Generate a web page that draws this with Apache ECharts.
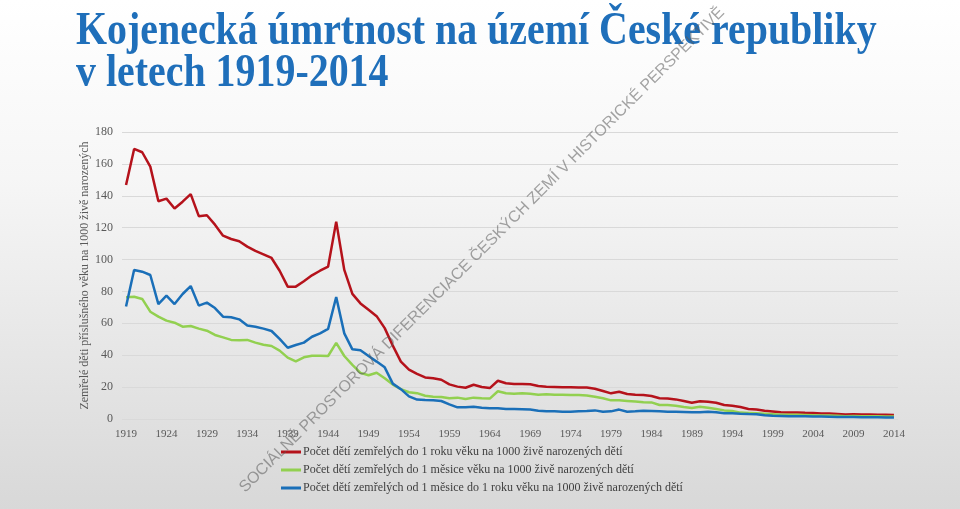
<!DOCTYPE html>
<html>
<head>
<meta charset="utf-8">
<script src="https://cdn.jsdelivr.net/npm/echarts@6/dist/echarts.min.js"></script>
<style>html,body{margin:0;padding:0;}#c{width:960px;height:509px;}</style>
</head>
<body>
<div id="c"></div>
<script>
const years = [];
for (let y = 1919; y <= 2014; y++) years.push(String(y));

const infant = [146.8,169.4,167.3,158.3,136.6,138.2,132,136.3,141,127.2,127.8,121.9,115,112.9,111.5,108.1,105.4,103.3,101,93,83,83,86.4,90.1,93,95.6,123.8,93.5,78.5,72.5,68.5,64.5,57,46,36,31,28.3,26.1,25.5,24.6,21.7,20.3,19.6,21.5,20.1,19.4,24,22.4,22,22,21.8,20.7,20.3,20.1,19.9,19.9,19.7,19.7,19,17.6,16.1,17.1,15.7,15.2,15,14.4,13,12.8,12.3,11.3,10.2,11.1,10.8,10.2,8.8,8.3,7.5,6.3,5.9,5.2,4.7,4.2,4.0,4.1,3.9,3.8,3.5,3.4,3.2,2.9,3.0,2.8,2.8,2.7,2.6,2.5];
const neonatal = [76.3,76.7,75.3,67.3,64.2,61.7,60.4,57.9,58.3,56.7,55.4,52.7,51.2,49.6,49.4,49.6,47.9,46.6,45.8,42.9,38.5,36.2,38.7,39.7,39.7,39.5,47.7,39.5,33.9,28.9,27.4,29,25.5,21.6,18.7,16.8,16.2,14.6,14,13.8,13,13.4,12.5,13.4,13,12.8,17.4,16.1,15.9,16.1,15.9,15.2,15.5,15.2,15.2,15,15,14.8,14,13,11.7,11.7,11.3,10.9,10.5,10.4,8.8,8.8,8.3,7.5,6.9,7.7,7.1,6.3,5.4,5.0,4.0,3.8,3.6,3.3,3.0,2.7,2.6,2.6,2.5,2.4,2.2,2.2,2.0,1.8,1.9,1.7,1.8,1.7,1.6,1.5];
const postneonatal = [70.5,93.5,92.4,90.3,72.1,77.4,72.1,78.4,83.4,71.1,73,69.6,64.2,63.8,62.5,58.6,57.9,56.7,55.2,50.2,44.7,46.4,47.9,51.6,53.7,56.5,76.5,53.7,43.7,43.1,39.5,36,32.4,22.2,18.7,14.2,12.2,11.9,11.7,11.3,9.2,7.3,7.3,7.7,7.1,6.7,6.7,6.3,6.2,6.1,5.9,5.2,4.8,4.8,4.6,4.6,4.8,5.0,5.4,4.6,4.8,5.9,4.6,4.8,5.2,5.0,4.8,4.6,4.6,4.4,4.2,4.2,4.6,4.2,3.6,3.6,3.3,3.1,3.0,2.3,2.0,1.9,1.8,1.8,1.7,1.6,1.5,1.4,1.3,1.2,1.2,1.1,1.1,1.1,1.0,0.9];

const seriesNames = [
  'Počet dětí zemřelých do 1 roku věku na 1000 živě narozených dětí',
  'Počet dětí zemřelých do 1 měsice věku na 1000 živě narozených dětí',
  'Počet dětí zemřelých od 1 měsice do 1 roku věku na 1000 živě narozených dětí'
];
const yTicks = {min: 0, max: 180, interval: 20};
const titleLines = ['Kojenecká úmrtnost na území České republiky', 'v letech 1919-2014'];
const watermark = 'SOCIÁLNĚ PROSTOROVÁ DIFERENCIACE ČESKÝCH ZEMÍ V HISTORICKÉ PERSPEKTIVĚ';

const serif = '"Liberation Serif", "Times New Roman", serif';
const chart = echarts.init(document.getElementById('c'));
chart.setOption({
  backgroundColor: new echarts.graphic.LinearGradient(0, 0, 0, 1, [
    {offset: 0, color: '#ffffff'}, {offset: 0.35, color: '#f6f6f6'}, {offset: 1, color: '#d8d8d8'}
  ]),
  animation: false,
  grid: {left: 122, right: 62, top: 132, bottom: 90},
  legend: {
    orient: 'vertical', left: 281, top: 446, itemGap: 6, padding: 0,
    itemWidth: 20, itemHeight: 3, icon: 'rect',
    textStyle: {fontFamily: serif, fontSize: 12, color: '#404040', padding: [0,0,0,-3]},
    data: seriesNames
  },
  xAxis: {
    type: 'category', data: years, boundaryGap: true,
    axisLine: {show: false}, axisTick: {show: false},
    axisLabel: {interval: 4, fontFamily: serif, fontSize: 11, color: '#595959', margin: 10}
  },
  yAxis: {
    type: 'value', min: yTicks.min, max: yTicks.max, interval: yTicks.interval,
    name: 'Zemřelé děti příslušného věku na 1000 živě narozených',
    nameLocation: 'middle', nameGap: 31, nameMoveOverlap: false,
    nameTextStyle: {fontFamily: serif, fontSize: 12, color: '#595959'},
    axisLabel: {fontFamily: serif, fontSize: 12, color: '#595959', margin: 9},
    splitLine: {lineStyle: {color: '#d9d9d9', width: 1}}
  },
  series: [
    {name: seriesNames[0], type: 'line', data: infant, showSymbol: false, lineStyle: {color: '#b5121b', width: 2.5}, itemStyle: {color: '#b5121b'}},
    {name: seriesNames[1], type: 'line', data: neonatal, showSymbol: false, lineStyle: {color: '#92d050', width: 2.5}, itemStyle: {color: '#92d050'}},
    {name: seriesNames[2], type: 'line', data: postneonatal, showSymbol: false, lineStyle: {color: '#1a6fb8', width: 2.5}, itemStyle: {color: '#1a6fb8'}}
  ],
  graphic: [
    {type: 'text', x: 76, y: 32, scaleX: 1.05, scaleY: 1.22, silent: true,
     style: {text: titleLines[0], font: 'bold 38px ' + serif, fill: '#1f6fba', align: 'left', verticalAlign: 'middle'}},
    {type: 'text', x: 76, y: 74, scaleX: 1.05, scaleY: 1.22, silent: true,
     style: {text: titleLines[1], font: 'bold 38px ' + serif, fill: '#1f6fba', align: 'left', verticalAlign: 'middle'}},
    {type: 'text', x: 482, y: 250, rotation: Math.PI / 4, silent: true, z: 100,
     style: {text: watermark, font: '16px "Liberation Sans", Arial, sans-serif', fill: 'rgba(90,90,90,0.55)', align: 'center', verticalAlign: 'middle'}}
  ]
});
</script>
</body>
</html>
